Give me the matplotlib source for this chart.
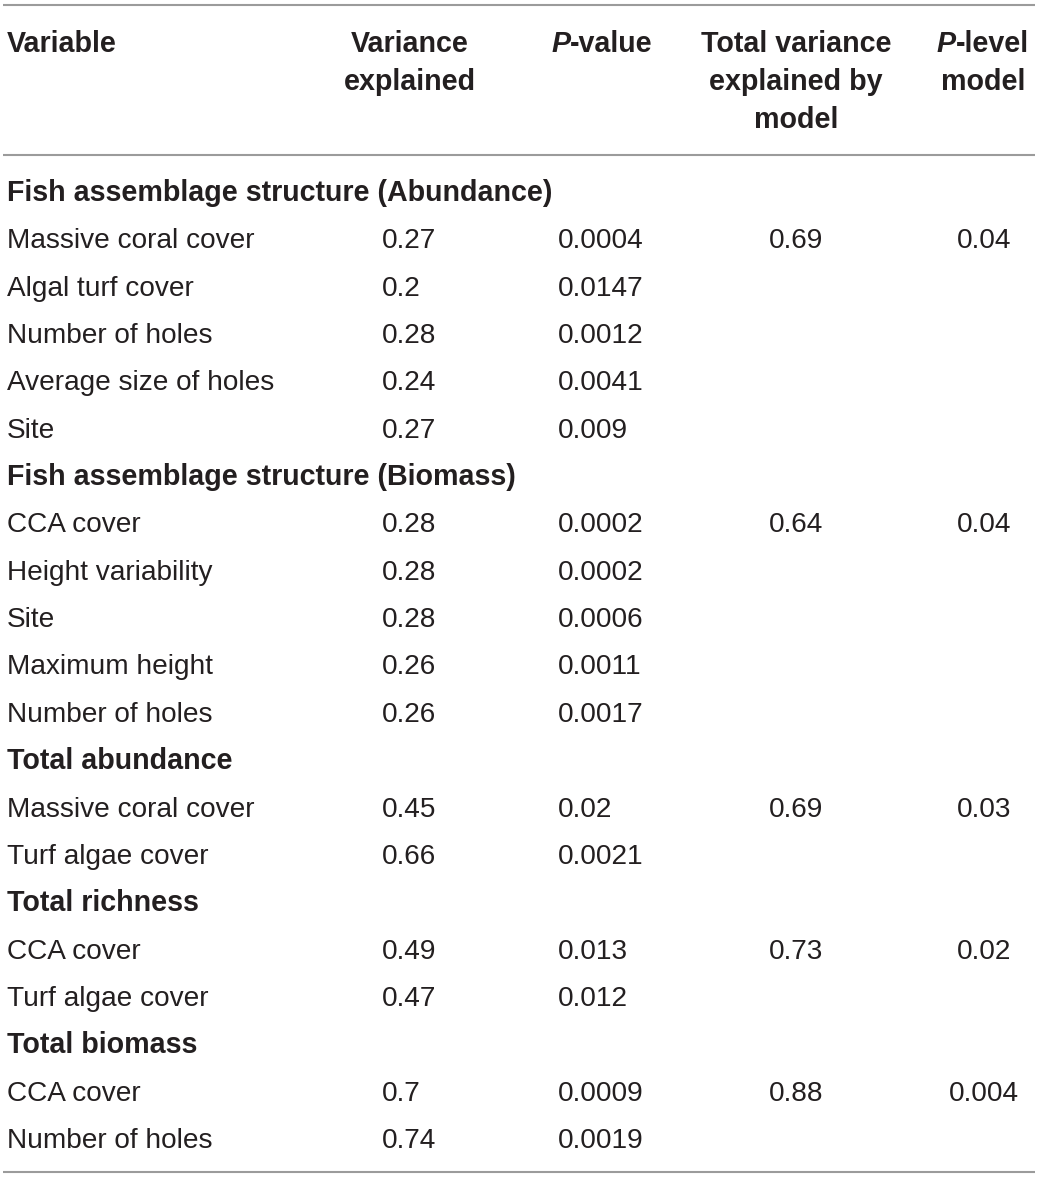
import matplotlib
matplotlib.use("Agg")
import matplotlib.pyplot as plt

sections = ["Fish assemblage structure (Abundance)",
            "Fish assemblage structure (Biomass)",
            "Total abundance", "Total richness", "Total biomass"]
section_sizes = [5, 5, 2, 2, 2]
variables = ["Massive coral cover", "Algal turf cover", "Number of holes",
             "Average size of holes", "Site",
             "CCA cover", "Height variability", "Site", "Maximum height",
             "Number of holes",
             "Massive coral cover", "Turf algae cover",
             "CCA cover", "Turf algae cover",
             "CCA cover", "Number of holes"]
var_explained = ["0.27", "0.2", "0.28", "0.24", "0.27",
                 "0.28", "0.28", "0.28", "0.26", "0.26",
                 "0.45", "0.66", "0.49", "0.47", "0.7", "0.74"]
p_values = ["0.0004", "0.0147", "0.0012", "0.0041", "0.009",
            "0.0002", "0.0002", "0.0006", "0.0011", "0.0017",
            "0.02", "0.0021", "0.013", "0.012", "0.0009", "0.0019"]
model_total = ["0.69", "0.64", "0.69", "0.73", "0.88"]
model_p = ["0.04", "0.04", "0.03", "0.02", "0.004"]

W, H = 1040, 1179
fig = plt.figure(figsize=(W / 100, H / 100), dpi=100)
ax = fig.add_axes([0, 0, 1, 1])
ax.set_xlim(0, W)
ax.set_ylim(H, 0)
ax.axis("off")

FONT = "Liberation Sans"
TXT = "#231f20"
LINE = "#9b9b9b"
FS = 20.2
FSB = 20.6
renderer = fig.canvas.get_renderer()


def put(x, y, s, bold=False, ha="left", italic=False):
    return ax.text(x, y, s, fontsize=FSB if bold else FS, family=FONT,
                   weight="bold" if bold else "normal",
                   style="italic" if italic else "normal",
                   color=TXT, ha=ha, va="baseline")


def put_mixed(xc, y, pieces):
    # pieces: list of (text, italic); bold, centred at xc
    objs = [put(0, y, s, bold=True, italic=it) for s, it in pieces]
    widths = [o.get_window_extent(renderer).width for o in objs]
    x = xc - sum(widths) / 2
    for o, w in zip(objs, widths):
        o.set_x(x)
        x += w


def baseline(center):
    return center + 10


# rules
for yl in (5, 155, 1172):
    ax.plot([3, 1035], [yl, yl], color=LINE, lw=1.5, solid_capstyle="butt")

# header
X_VAR = 7
X_VE_H, X_PV_H, X_TV_H, X_PL_H = 410, 602, 796, 983
X_VE, X_PV, X_TV, X_PL = 382, 558, 796, 984
put(X_VAR, baseline(42), "Variable", bold=True)
put(X_VE_H, baseline(42), "Variance", bold=True, ha="center")
put(X_VE_H, baseline(80), "explained", bold=True, ha="center")
put_mixed(X_PV_H, baseline(42), [("P", True), ("-value", False)])
put(X_TV_H, baseline(42), "Total variance", bold=True, ha="center")
put(X_TV_H, baseline(80), "explained by", bold=True, ha="center")
put(X_TV_H, baseline(118), "model", bold=True, ha="center")
put_mixed(X_PL_H, baseline(42), [("P", True), ("-level", False)])
put(X_PL_H, baseline(80), "model", bold=True, ha="center")

# body
y0 = 191
step = (1138 - 191) / 20
row = 0
idx = 0
for si, (sec, n) in enumerate(zip(sections, section_sizes)):
    put(X_VAR, baseline(y0 + row * step), sec, bold=True)
    row += 1
    for k in range(n):
        yc = baseline(y0 + row * step)
        put(X_VAR, yc, variables[idx])
        put(X_VE, yc, var_explained[idx])
        put(X_PV, yc, p_values[idx])
        if k == 0:
            put(X_TV, yc, model_total[si], ha="center")
            put(X_PL, yc, model_p[si], ha="center")
        idx += 1
        row += 1

fig.savefig("out.png", dpi=100, facecolor="white")
